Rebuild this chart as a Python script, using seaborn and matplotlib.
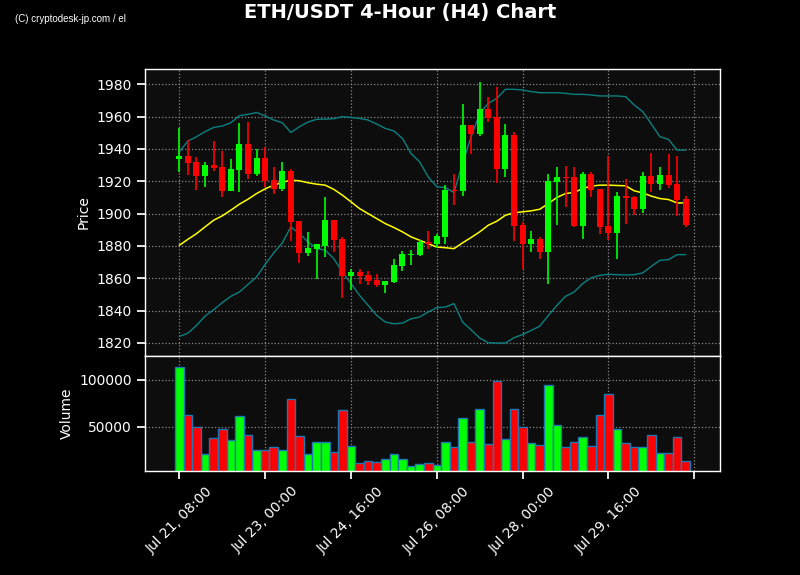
import numpy as np
import pandas as pd
import matplotlib
matplotlib.use('Agg')
import matplotlib.pyplot as plt
from matplotlib.ticker import MultipleLocator, FixedLocator
import seaborn as sns

# ==========================
# DATA
# ==========================
opens = [1934.0, 1935.6, 1931.9, 1923.4, 1930.0, 1928.8, 1914.1, 1927.1, 1943.0, 1924.6,
         1934.3, 1920.7, 1915.1, 1926.3, 1895.3, 1875.7, 1878.1, 1880.2, 1895.9, 1884.1,
         1861.4, 1863.7, 1861.8, 1858.7, 1855.6, 1857.7, 1867.6, 1874.6, 1874.4, 1882.3,
         1881.0, 1885.6, 1914.7, 1914.1, 1954.8, 1949.2, 1964.7, 1960.0, 1927.7, 1948.6,
         1892.8, 1881.2, 1884.1, 1876.3, 1919.7, 1922.6, 1922.6, 1892.4, 1924.8, 1915.1,
         1892.2, 1888.1, 1910.8, 1910.4, 1902.7, 1923.2, 1918.2, 1923.8, 1918.2, 1908.9]
highs = [1952.7, 1945.5, 1935.2, 1931.7, 1944.7, 1938.9, 1933.7, 1955.8, 1956.4, 1939.7,
         1941.4, 1928.6, 1931.7, 1927.9, 1895.5, 1888.9, 1881.0, 1910.2, 1896.0, 1885.6,
         1865.9, 1865.9, 1864.7, 1862.8, 1858.5, 1872.1, 1877.1, 1877.3, 1883.5, 1889.5,
         1887.6, 1918.0, 1924.6, 1967.6, 1955.0, 1981.4, 1971.9, 1978.1, 1955.4, 1950.7,
         1894.5, 1889.3, 1885.6, 1924.2, 1929.0, 1929.6, 1928.6, 1925.5, 1925.5, 1915.3,
         1935.6, 1913.1, 1921.7, 1910.6, 1925.9, 1937.2, 1929.0, 1936.6, 1935.8, 1911.0]
lows = [1925.9, 1923.8, 1914.9, 1916.6, 1926.5, 1910.4, 1913.9, 1913.1, 1921.3, 1923.0,
        1916.6, 1912.4, 1914.1, 1882.9, 1869.7, 1873.8, 1859.8, 1873.2, 1876.3, 1848.0,
        1853.0, 1856.7, 1855.6, 1854.6, 1851.1, 1857.1, 1864.5, 1868.0, 1873.8, 1878.1,
        1879.0, 1881.4, 1905.4, 1911.0, 1936.6, 1948.2, 1956.9, 1919.0, 1922.4, 1882.9,
        1865.5, 1876.3, 1872.1, 1856.7, 1892.8, 1904.2, 1891.4, 1884.5, 1910.0, 1887.2,
        1883.9, 1872.1, 1893.8, 1899.4, 1900.5, 1913.5, 1914.9, 1916.0, 1898.6, 1892.0]
closes = [1935.6, 1931.4, 1923.4, 1930.0, 1928.3, 1914.1, 1927.5, 1943.0, 1924.6, 1934.3,
          1920.1, 1915.3, 1926.3, 1894.7, 1875.7, 1878.6, 1881.0, 1895.9, 1883.5, 1861.4,
          1863.7, 1861.4, 1858.3, 1855.6, 1858.1, 1868.0, 1874.8, 1875.2, 1882.3, 1881.0,
          1886.2, 1914.5, 1913.9, 1954.8, 1949.2, 1964.7, 1959.3, 1927.7, 1948.6, 1892.4,
          1881.4, 1884.1, 1876.3, 1920.1, 1922.6, 1922.1, 1892.4, 1924.8, 1914.9, 1891.8,
          1888.1, 1910.8, 1909.8, 1902.7, 1923.2, 1918.2, 1923.8, 1917.6, 1908.3, 1892.8]

bb_upper = [1938.3, 1944.9, 1947.6, 1950.7, 1953.3, 1954.2, 1956.2, 1960.6, 1961.4, 1962.6,
            1960.4, 1957.9, 1956.2, 1950.2, 1953.8, 1956.7, 1958.3, 1958.5, 1958.7, 1960.0,
            1959.5, 1958.9, 1957.9, 1955.4, 1952.7, 1951.1, 1946.5, 1937.2, 1932.0, 1922.7,
            1916.6, 1916.1, 1913.0, 1931.0, 1947.5, 1962.0, 1968.2, 1971.3, 1976.9, 1976.9,
            1976.5, 1975.5, 1974.8, 1974.8, 1974.8, 1974.4, 1973.8, 1973.8, 1973.4, 1972.8,
            1972.8, 1972.8, 1972.4, 1967.2, 1963.1, 1955.4, 1947.6, 1945.9, 1939.3, 1939.3]
bb_mid = [1880.4, 1884.1, 1887.6, 1891.8, 1895.9, 1898.6, 1902.1, 1905.8, 1908.9, 1912.4,
          1915.3, 1917.6, 1919.3, 1920.7, 1920.3, 1919.1, 1918.2, 1917.6, 1915.0, 1911.4,
          1907.3, 1903.1, 1900.0, 1896.9, 1893.8, 1891.4, 1888.7, 1885.6, 1883.5, 1881.4,
          1879.3, 1878.9, 1878.3, 1881.9, 1885.2, 1888.7, 1892.8, 1895.3, 1899.0, 1900.5,
          1901.1, 1901.7, 1902.7, 1906.2, 1910.0, 1912.4, 1913.1, 1915.5, 1917.0, 1917.6,
          1917.6, 1917.4, 1917.2, 1914.1, 1912.8, 1910.8, 1909.3, 1908.7, 1906.6, 1906.6]
bb_lower = [1824.0, 1826.0, 1830.8, 1836.6, 1840.5, 1844.9, 1848.8, 1851.5, 1856.2, 1860.8,
            1868.6, 1875.7, 1881.9, 1891.8, 1887.6, 1882.5, 1878.4, 1877.3, 1872.1, 1863.9,
            1856.7, 1849.4, 1843.2, 1837.0, 1832.9, 1831.8, 1832.2, 1834.9, 1836.0, 1839.1,
            1841.8, 1842.2, 1844.3, 1832.9, 1828.1, 1823.0, 1820.1, 1819.9, 1819.9, 1823.2,
            1825.2, 1827.7, 1830.4, 1837.0, 1843.2, 1848.8, 1851.5, 1856.7, 1860.3, 1861.8,
            1862.4, 1862.2, 1862.0, 1862.2, 1863.3, 1867.4, 1871.1, 1871.5, 1874.6, 1874.6]

volumes = [113500, 62400, 50000, 21300, 38300, 47900, 36200, 61700, 41500, 25200,
           25200, 28400, 25200, 79800, 40800, 21300, 34000, 34000, 23400, 68100,
           29800, 11700, 13800, 12800, 16000, 21300, 16000, 8500, 10600, 11700,
           9600, 34000, 28700, 59600, 34000, 69100, 31900, 98900, 37200, 69100,
           50000, 33000, 30900, 94700, 52100, 28700, 34000, 39400, 29800, 62800,
           85100, 47900, 33000, 28700, 28700, 41500, 22300, 22300, 39400, 13800]

start_time = '2024-07-21 08:00'

df = pd.DataFrame({'open': opens, 'high': highs, 'low': lows, 'close': closes,
                   'upper': bb_upper, 'mid': bb_mid, 'lower': bb_lower,
                   'volume': volumes})
df['idx'] = np.arange(len(df))
df['time'] = pd.date_range(start_time, periods=len(df), freq='4h')
df['dir'] = np.where(df['close'] >= df['open'], 'up', 'down')

UP = '#00ff00'
DOWN = '#ff0000'
colors = [UP if d == 'up' else DOWN for d in df['dir']]

# ==========================
# STYLE
# ==========================
sns.set_theme(style='dark')
plt.rcParams['font.family'] = ['DejaVu Sans']
plt.rcParams.update({
    'figure.facecolor': 'black',
    'axes.facecolor': '#0d0d0d',
    'axes.edgecolor': 'white',
    'axes.labelcolor': 'white',
    'axes.labelsize': 10,
    'xtick.color': 'white',
    'ytick.color': 'white',
    'text.color': 'white',
    'xtick.bottom': True,
    'ytick.left': True,
    'axes.axisbelow': True,
})

fig = plt.figure(figsize=(8, 5.75), dpi=100)
gs = fig.add_gridspec(2, 1, height_ratios=[5, 2], hspace=0,
                      left=0.18125, right=0.9, top=0.88, bottom=0.181)
ax = fig.add_subplot(gs[0])
ax_vol = fig.add_subplot(gs[1], sharex=ax)

# ==========================
# CANDLES + BOLLINGER BANDS
# ==========================
body_low = np.minimum(df['open'], df['close'])
body_h = np.maximum(np.abs(df['close'] - df['open']), 0.6)
ax.vlines(df['idx'], df['low'], df['high'], colors=colors, linewidth=1.2, zorder=3)
ax.bar(df['idx'], body_h, bottom=body_low, width=0.7, color=colors, linewidth=0, zorder=4)

sns.lineplot(data=df, x='idx', y='upper', ax=ax, color='#0b8080', linewidth=1, zorder=2)
sns.lineplot(data=df, x='idx', y='lower', ax=ax, color='#0b8080', linewidth=1, zorder=2)
sns.lineplot(data=df, x='idx', y='mid', ax=ax, color='#ffff00', linewidth=1.1, zorder=2)

ax.set_ylabel('Price', color='white', fontsize=10)
ax.set_xlabel('')
ax.yaxis.set_major_locator(MultipleLocator(20))

# ==========================
# VOLUME
# ==========================
sns.barplot(data=df, x='idx', y='volume', hue='dir', palette={'up': UP, 'down': DOWN},
            dodge=False, width=1.0, native_scale=True, errorbar=None, legend=False,
            saturation=1, edgecolor='#1f77b4', linewidth=1, ax=ax_vol)
ax_vol.set_ylim(3500, 124800)
ax_vol.yaxis.set_major_locator(FixedLocator([50000, 100000]))
ax_vol.set_ylabel('Volume', color='white', fontsize=10)
ax_vol.set_xlabel('')

tick_pos = list(range(0, 61, 10))
tick_lab = [df['time'][i].strftime('%b %d, %H:%M') if i < len(df) else '' for i in tick_pos]
ax_vol.set_xticks(tick_pos)
ax_vol.set_xticklabels(tick_lab, rotation=45)
ax_vol.set_xlim(-4, 63)

for a in (ax, ax_vol):
    a.grid(True, color='#8a8a8a', linestyle=':', linewidth=0.9)
    for s in a.spines.values():
        s.set_color('white')
        s.set_linewidth(1)
    a.tick_params(colors='white', labelsize=10)
ax.tick_params(axis='x', labelbottom=False, length=0)

fig.suptitle('ETH/USDT 4-Hour (H4) Chart', color='white', fontsize=14,
             fontweight='bold', y=0.995)
fig.text(0.019, 0.962, '(C) cryptodesk-jp.com / el', color='white', fontsize=7,
         family=['Liberation Sans', 'DejaVu Sans'])

plt.savefig('out.png', dpi=100, facecolor='black')
